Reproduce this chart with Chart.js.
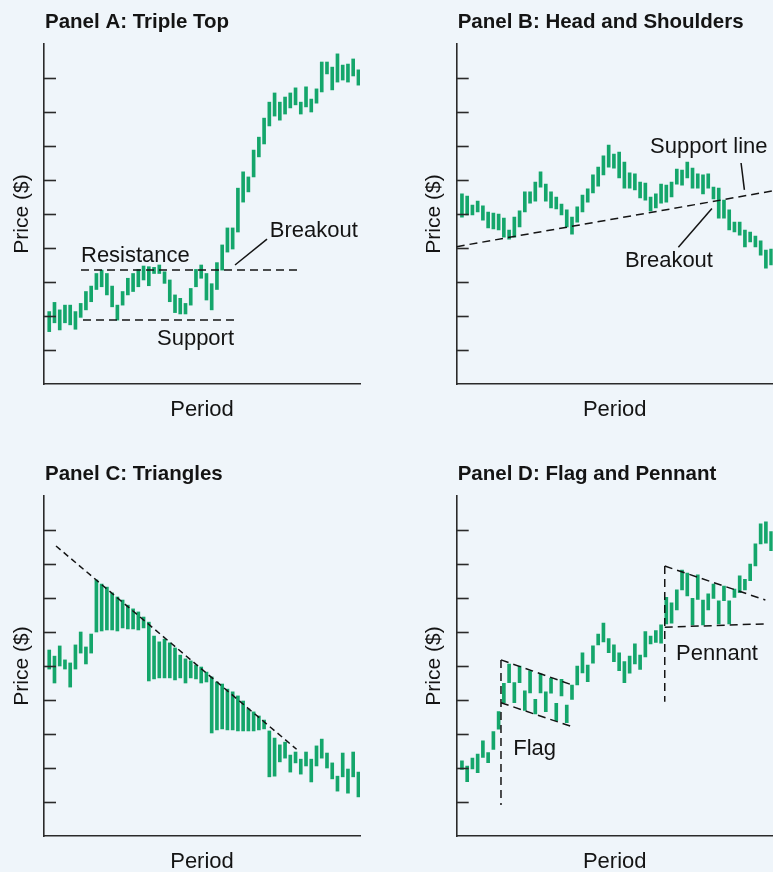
<!DOCTYPE html>
<html>
<head>
<meta charset="utf-8">
<script src="https://cdn.jsdelivr.net/npm/chart.js"></script>
<style>
    html, body { margin: 0; padding: 0; width: 773px; height: 872px; overflow: hidden; background: #eff5fa; }
    .panel { position: absolute; }
</style>
</head>
<body>
<div class="panel" style="left:0; top:0;"><canvas id="chartA" width="386" height="436"></canvas></div>
<div class="panel" style="left:386px; top:0;"><canvas id="chartB" width="414" height="436"></canvas></div>
<div class="panel" style="left:0; top:436px;"><canvas id="chartC" width="386" height="436"></canvas></div>
<div class="panel" style="left:386px; top:436px;"><canvas id="chartD" width="414" height="436"></canvas></div>

<script>
// Tick marks on the price axis (no labels)
var yTicks = [1, 2, 3, 4, 5, 6, 7, 8, 9];

// Panel A: Triple Top (high / low per period)
var aHigh = [2.13,2.40,2.18,2.32,2.32,2.13,2.37,2.72,2.88,3.25, 3.35,3.25,2.88,2.32,2.72,3.11,3.25,3.37,3.47,3.45,
             3.43,3.50,3.30,3.06,2.62,2.52,2.37,2.81,3.37,3.50, 3.25,2.95,3.57,4.09,4.59,4.59,5.76,6.24,6.09,6.88,
             7.26,7.82,8.29,8.56,8.29,8.44,8.56,8.71,8.29,8.74, 8.38,8.68,9.47,9.47,9.32,9.71,9.38,9.41,9.56,9.24];
var aLow  = [1.54,1.80,1.59,1.80,1.74,1.61,1.96,2.18,2.42,2.78, 2.86,2.62,2.27,1.88,2.32,2.62,2.72,2.86,3.06,2.89,
             3.25,3.25,2.96,2.42,2.10,2.06,2.06,2.32,2.86,3.11, 2.47,2.18,2.78,3.35,3.88,3.97,4.47,5.35,5.65,6.09,
             6.68,7.06,7.59,7.88,7.76,7.94,8.12,8.21,7.94,8.15, 8.00,8.26,8.59,9.12,8.65,8.88,8.94,8.88,9.06,8.79];
var aResistance = [{x: 6.06, y: 3.35}, {x: 47.5, y: 3.35}];
var aSupport    = [{x: 6.44, y: 1.88}, {x: 35.8, y: 1.88}];
var aPointer    = [{x: 35.45, y: 3.50}, {x: 41.56, y: 4.26}];

// Panel B: Head and Shoulders
var bHigh = [5.59,5.53,5.26,5.38,5.24,5.06,5.03,5.00,4.88,4.53, 4.91,5.09,5.65,5.65,5.94,6.24,5.88,5.65,5.50,5.29,
             5.12,4.91,5.21,5.56,5.74,6.15,6.38,6.71,7.03,6.76, 6.82,6.53,6.21,6.18,5.94,5.91,5.50,5.59,5.88,5.85,
             5.94,6.32,6.29,6.53,6.35,6.18,6.15,6.18,5.79,5.76, 5.41,5.12,4.76,4.76,4.53,4.47,4.35,4.21,3.94,3.97];
var bLow  = [4.91,4.97,4.97,5.06,4.82,4.59,4.56,4.53,4.32,4.26, 4.32,4.62,5.06,5.32,5.38,5.79,5.38,5.18,5.15,4.97,
             4.62,4.41,4.76,5.06,5.35,5.62,5.82,6.15,6.38,6.35, 6.06,5.76,5.76,5.71,5.47,5.41,5.09,5.18,5.32,5.35,
             5.50,5.88,5.85,6.06,5.76,5.76,5.59,5.76,5.44,4.88, 4.88,4.53,4.47,4.38,4.03,4.18,4.03,3.79,3.41,3.50];
var bSupportLine = [{x: -1, y: 4.04}, {x: 59.36, y: 5.68}];
var bSupportTag  = [{x: 53.26, y: 6.50}, {x: 53.9, y: 5.71}];
var bBreakTag    = [{x: 41.3, y: 4.02}, {x: 47.7, y: 5.16}];

// Panel C: Triangles
var cHigh = [5.47,5.29,5.59,5.18,5.09,5.62,6.00,5.56,5.94,7.53, 7.41,7.32,7.15,7.03,6.94,6.79,6.68,6.59,6.44,6.29,
             5.88,5.71,5.79,5.68,5.53,5.32,5.21,5.15,5.03,4.97, 4.82,4.68,4.53,4.47,4.32,4.24,4.12,3.97,3.74,3.65,
             3.53,3.41,3.09,2.88,2.68,2.76,2.38,2.47,2.26,2.47, 2.26,2.65,2.85,2.44,2.15,1.76,2.44,1.97,2.47,1.88];
var cLow  = [4.91,4.50,5.00,4.91,4.38,4.91,5.38,5.06,5.38,6.00, 6.03,6.06,6.06,6.03,6.12,6.09,6.09,6.06,6.12,4.56,
             4.62,4.65,4.65,4.65,4.59,4.65,4.50,4.65,4.62,4.50, 4.53,3.03,3.12,3.15,3.12,3.12,3.09,3.09,3.09,3.09,
             3.12,3.15,1.74,1.76,2.18,2.29,1.88,2.15,1.82,2.06, 1.59,2.06,2.29,2.00,1.68,1.32,1.74,1.26,1.74,1.15];
var cTrend = [{x: 1.29, y: 8.53}, {x: 47.2, y: 2.55}];

// Panel D: Flag and Pennant
var dHigh = [2.21,2.06,2.29,2.41,2.80,2.45,3.07,3.66,4.49,5.06, 4.51,5.00,4.27,4.86,4.02,4.76,4.24,4.64,3.90,4.61,
             3.85,4.44,5.00,5.39,5.03,5.59,5.94,6.26,5.81,5.62, 5.39,5.13,5.29,5.65,5.32,6.01,5.88,6.04,6.21,7.02,
             6.86,7.24,7.82,7.73,6.99,7.68,6.94,7.12,7.41,6.92, 7.35,6.92,7.26,7.65,7.55,8.00,8.59,9.18,9.24,8.95];
var dLow  = [1.96,1.60,1.97,1.86,2.31,2.16,2.55,3.14,3.92,4.51, 3.92,4.51,3.69,4.21,3.59,4.21,3.66,4.20,3.39,4.12,
             3.33,4.02,4.44,4.80,4.54,5.08,5.62,5.71,5.39,5.13, 4.86,4.51,4.79,5.06,4.90,5.27,5.65,5.69,5.67,6.24,
             6.26,6.65,7.24,7.06,6.21,6.96,6.21,6.65,6.99,6.24, 6.92,6.24,7.02,7.16,7.24,7.51,7.94,8.59,8.61,8.39];
var dFlagPole    = [{x: 7.45, y: 5.18}, {x: 7.45, y: 0.91}];
var dFlagTop     = [{x: 7.45, y: 5.18}, {x: 21.1, y: 4.44}];
var dFlagBottom  = [{x: 7.45, y: 3.92}, {x: 21.1, y: 3.21}];
var dPennantPole = [{x: 38.7, y: 7.94}, {x: 38.7, y: 3.95}];
var dPennantTop  = [{x: 38.7, y: 7.94}, {x: 57.9, y: 6.94}];
var dPennantBot  = [{x: 38.7, y: 6.14}, {x: 57.9, y: 6.24}];

var green = '#14a66b';
var ink = '#141414';
var axisColor = '#2a2a2a';
var fontFam = '"Liberation Sans", Arial, sans-serif';

// Titles, axis names, inward ticks and text notes
var decor = {
    id: 'decor',
    afterDraw: function(chart, args, opts) {
        var ctx = chart.ctx, a = chart.chartArea;
        var x = chart.scales.x, y = chart.scales.y;
        ctx.save();
        ctx.strokeStyle = axisColor;
        ctx.lineWidth = 1.6;
        yTicks.forEach(function(v) {
            var py = Math.round(y.getPixelForValue(v)) + 0.5;
            ctx.beginPath();
            ctx.moveTo(a.left, py);
            ctx.lineTo(a.left + 12, py);
            ctx.stroke();
        });

        ctx.fillStyle = ink;
        ctx.textBaseline = 'alphabetic';
        ctx.textAlign = 'left';
        ctx.font = 'bold 20.5px ' + fontFam;
        ctx.fillText(opts.title, a.left + 1, a.top - 16);

        ctx.font = '22px ' + fontFam;
        ctx.textAlign = 'center';
        ctx.fillText('Period', (a.left + a.right) / 2, a.bottom + 32);

        ctx.save();
        ctx.translate(a.left - 22, (a.top + a.bottom) / 2);
        ctx.rotate(-Math.PI / 2);
        ctx.textBaseline = 'middle';
        ctx.font = '21px ' + fontFam;
        ctx.fillText('Price ($)', 0, 0);
        ctx.restore();

        ctx.textAlign = 'left';
        ctx.font = '22px ' + fontFam;
        (opts.notes || []).forEach(function(n) {
            ctx.fillText(n.text, x.getPixelForValue(n.x), y.getPixelForValue(n.y));
        });
        ctx.restore();
    }
};

function barSet(highs, lows) {
    return {
        type: 'bar',
        data: highs.map(function(h, i) { return { x: i, y: [lows[i], h] }; }),
        backgroundColor: green,
        borderWidth: 0,
        barThickness: 3,
        order: 2
    };
}

function lineSet(points, dash) {
    return {
        type: 'line',
        data: points,
        borderColor: ink,
        borderWidth: 1.5,
        borderDash: dash || [],
        pointRadius: 0,
        fill: false,
        tension: 0,
        order: 1
    };
}

function makeChart(id, pad, title, datasets, notes) {
    var ctx = document.getElementById(id).getContext('2d');
    return new Chart(ctx, {
        type: 'bar',
        data: { datasets: datasets },
        options: {
            responsive: false,
            animation: false,
            layout: { padding: pad, autoPadding: false },
            plugins: {
                legend: { display: false },
                tooltip: { enabled: false },
                decor: { title: title, notes: notes }
            },
            scales: {
                x: {
                    type: 'linear', min: -1, max: 59.3, offset: false,
                    grid: { display: false, drawTicks: false }, ticks: { display: false },
                    border: { display: true, color: axisColor, width: 1.6 }
                },
                y: {
                    type: 'linear', min: 0, max: 10,
                    grid: { display: false, drawTicks: false }, ticks: { display: false, stepSize: 1 },
                    border: { display: true, color: axisColor, width: 1.6 }
                }
            }
        },
        plugins: [decor]
    });
}

var dash = [8, 5];

makeChart('chartA', { left: 44, top: 44, right: 26, bottom: 52 }, 'Panel A: Triple Top', [
    barSet(aHigh, aLow),
    lineSet(aResistance, dash),
    lineSet(aSupport, dash),
    lineSet(aPointer)
], [
    { text: 'Resistance', x: 6.06, y: 3.60 },
    { text: 'Support', x: 20.56, y: 1.15 },
    { text: 'Breakout', x: 42.1, y: 4.31 }
]);

makeChart('chartB', { left: 70.7, top: 44, right: 27.3, bottom: 52 }, 'Panel B: Head and Shoulders', [
    barSet(bHigh, bLow),
    lineSet(bSupportLine, dash),
    lineSet(bSupportTag),
    lineSet(bBreakTag)
], [
    { text: 'Support line', x: 35.9, y: 6.79 },
    { text: 'Breakout', x: 31.1, y: 3.45 }
]);

makeChart('chartC', { left: 44, top: 60, right: 26, bottom: 36 }, 'Panel C: Triangles', [
    barSet(cHigh, cLow),
    lineSet(cTrend, [6, 4])
], []);

makeChart('chartD', { left: 70.7, top: 60, right: 27.3, bottom: 36 }, 'Panel D: Flag and Pennant', [
    barSet(dHigh, dLow),
    lineSet(dFlagPole, dash),
    lineSet(dFlagTop, dash),
    lineSet(dFlagBottom, dash),
    lineSet(dPennantPole, dash),
    lineSet(dPennantTop, dash),
    lineSet(dPennantBot, dash)
], [
    { text: 'Flag', x: 9.8, y: 2.38 },
    { text: 'Pennant', x: 40.85, y: 5.18 }
]);
</script>
</body>
</html>
